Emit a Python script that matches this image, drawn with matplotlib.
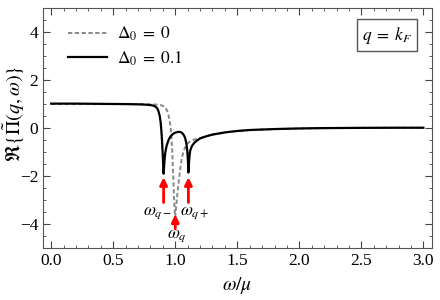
import matplotlib
matplotlib.use('Agg')
import matplotlib.pyplot as plt
from matplotlib.ticker import MultipleLocator

plt.rcParams['font.family'] = ['Liberation Serif', 'DejaVu Serif']
plt.rcParams['mathtext.fontset'] = 'stix'

# Delta0 = 0 (gray dashed)
w_d0 = [0.0, 0.2, 0.4, 0.6, 0.7, 0.8, 0.85, 0.88, 0.9, 0.92, 0.935, 0.945, 0.955,
        0.963, 0.97, 0.975, 0.98, 0.985, 0.99, 0.995, 1.0, 1.005, 1.01, 1.02, 1.03,
        1.04, 1.05, 1.06, 1.07, 1.085, 1.1, 1.12, 1.15, 1.2, 1.25, 1.3, 1.4, 1.5,
        1.6, 1.8, 2.0, 2.2, 2.5, 2.8, 3.0]
re_d0 = [1.0, 1.0, 1.0, 1.0, 1.0, 0.99, 0.98, 0.96, 0.93, 0.85, 0.72, 0.55, 0.3,
         0.0, -0.45, -0.9, -1.5, -2.2, -2.9, -3.4, -3.7, -3.4, -3.1, -2.6, -2.15,
         -1.7, -1.35, -1.1, -0.92, -0.75, -0.64, -0.55, -0.48, -0.42, -0.34, -0.27,
         -0.18, -0.12, -0.08, -0.04, -0.015, 0.0, 0.01, 0.015, 0.015]

# Delta0 = 0.1 (black solid)
w_d1 = [0.0, 0.2, 0.4, 0.6, 0.7, 0.75, 0.8, 0.82, 0.84, 0.855, 0.865, 0.875, 0.882,
        0.888, 0.893, 0.898, 0.902, 0.906, 0.91, 0.915, 0.92, 0.93, 0.94, 0.95,
        0.965, 0.98, 1.0, 1.02, 1.04, 1.055, 1.07, 1.08, 1.09, 1.097, 1.102, 1.106,
        1.11, 1.115, 1.12, 1.13, 1.14, 1.16, 1.18, 1.2, 1.25, 1.3, 1.4, 1.5, 1.6,
        1.8, 2.0, 2.2, 2.5, 2.8, 3.0]
re_d1 = [1.02, 1.02, 1.01, 1.0, 0.99, 0.98, 0.96, 0.94, 0.9, 0.82, 0.7, 0.5, 0.25,
         -0.1, -0.5, -1.0, -1.45, -1.9, -1.6, -1.25, -1.0, -0.75, -0.58, -0.45,
         -0.33, -0.25, -0.19, -0.16, -0.16, -0.2, -0.3, -0.42, -0.65, -0.95, -1.35,
         -1.85, -1.5, -1.15, -0.95, -0.8, -0.7, -0.58, -0.5, -0.43, -0.34, -0.27,
         -0.18, -0.12, -0.08, -0.04, -0.015, 0.0, 0.01, 0.015, 0.015]

# arrows: (x, y_start, y_tip), labels: (text, x, y)
arrows = [(0.906, -3.1, -2.05), (1.106, -3.1, -2.05), (1.0, -4.2, -3.6)]
labels = [(r'$\omega_{q-}$', 0.86, -3.55), (r'$\omega_{q+}$', 1.16, -3.55),
          (r'$\omega_q$', 1.01, -4.5)]

fig = plt.figure(figsize=(4.4, 3.0), dpi=100)
ax = fig.add_axes([0.098, 0.173, 0.884, 0.8])

ax.plot(w_d0, re_d0, color='#888888', ls=(0, (2.2, 1.3)), lw=1.4, label=r'$\Delta_0\;=\;0$')
ax.plot(w_d1, re_d1, color='black', lw=1.6, label=r'$\Delta_0\;=\;0.1$')

for x, y0, y1 in arrows:
    ax.annotate('', xy=(x, y1), xytext=(x, y0),
                arrowprops=dict(arrowstyle='-|>', color='red', lw=2,
                                mutation_scale=11, shrinkA=0, shrinkB=0))
for txt, x, y in labels:
    ax.text(x, y, txt, ha='center', va='center', fontsize=12.5)

ax.text(0.884, 0.8875, r'$q\;=\;k_F$', transform=ax.transAxes, ha='center', va='center',
        fontsize=12.5, bbox=dict(boxstyle='square,pad=0.3', fc='white', ec='#555555', lw=1))

ax.set_xlim(-0.065, 3.07)
ax.set_ylim(-5, 5)
ax.xaxis.set_major_locator(MultipleLocator(0.5))
ax.xaxis.set_minor_locator(MultipleLocator(0.1))
ax.yaxis.set_major_locator(MultipleLocator(2))
ax.yaxis.set_minor_locator(MultipleLocator(0.5))
ax.tick_params(which='both', direction='in', top=True, right=True, colors='#444444',
               labelcolor='black', labelsize=12.5)
ax.tick_params(which='major', length=5)
ax.tick_params(which='minor', length=2.5)
ax.set_xticklabels([f'{v:.1f}' for v in ax.get_xticks()])
for s in ax.spines.values():
    s.set_color('#555555')

ax.set_xlabel(r'$\omega/\mu$', fontsize=14)
ax.set_ylabel(r'$\Re\{\tilde{\Pi}(q,\omega)\}$', fontsize=14.5, va='center')
ax.yaxis.set_label_coords(-0.075, 0.56)

ax.legend(loc='upper left', frameon=False, fontsize=12.5, handlelength=2.2,
          handletextpad=0.6, bbox_to_anchor=(0.025, 0.995), labelspacing=0.35)

fig.savefig('out.png', dpi=100)
